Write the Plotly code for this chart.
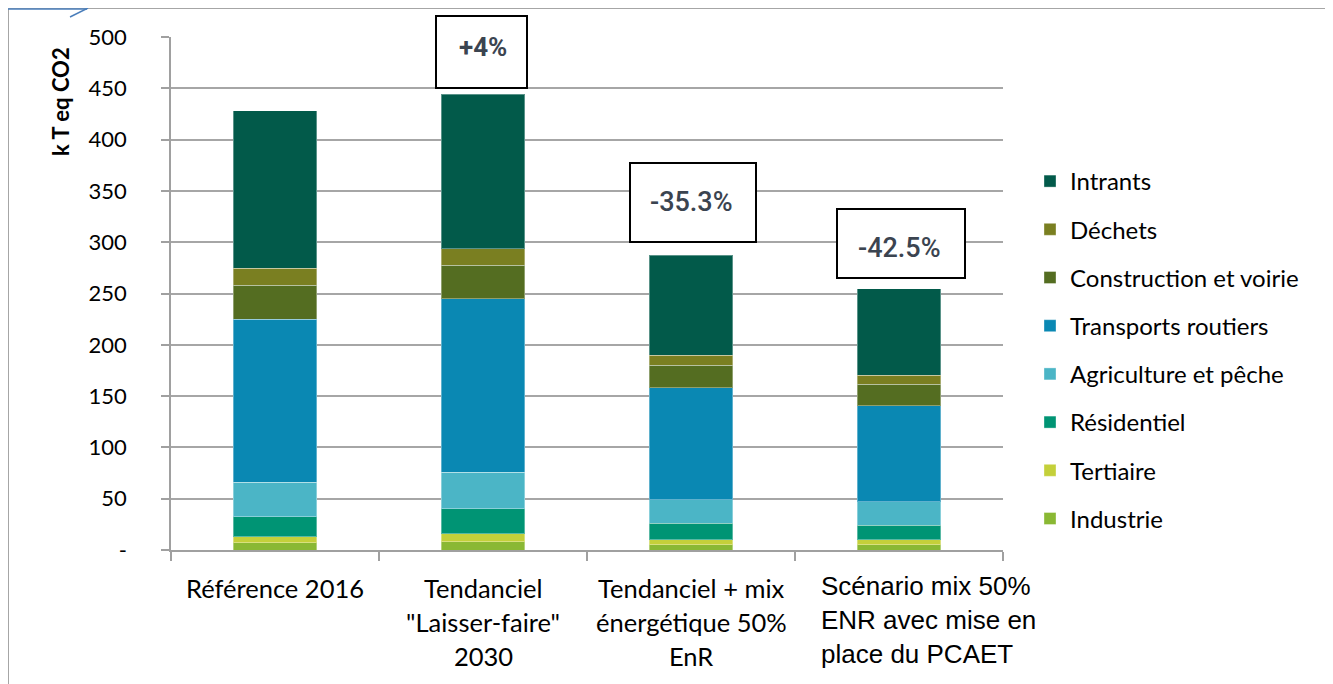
import plotly.graph_objects as go

categories = ["Référence 2016", "Tendanciel \"Laisser-faire\" 2030",
              "Tendanciel + mix énergétique 50% EnR",
              "Scénario mix 50% ENR avec mise en place du PCAET"]
label_lines = [["Référence 2016"],
               ["Tendanciel", "\"Laisser-faire\"", "2030"],
               ["Tendanciel + mix", "énergétique 50%", "EnR"]]
last_label = "Scénario mix 50%<br>ENR avec mise en<br>place du PCAET"

sectors = ["Industrie", "Tertiaire", "Résidentiel", "Agriculture et pêche",
           "Transports routiers", "Construction et voirie", "Déchets", "Intrants"]
colors = ["#8ab834", "#c4d03a", "#009474", "#4bb5c6",
          "#0a88b3", "#546d21", "#7a7f21", "#025a4a"]

industrie = [7, 8, 5, 5]
tertiaire = [6, 8, 5, 5]
residentiel = [19.5, 24, 16, 14]
agriculture = [33.5, 36, 23, 23]
transports = [159, 169, 109, 93.5]
construction = [33, 32.5, 22, 21]
dechets = [16.5, 16, 10, 9]
intrants = [153.5, 150.5, 97.5, 84]
values = [industrie, tertiaire, residentiel, agriculture,
          transports, construction, dechets, intrants]

pct_labels = ["+4%", "-35.3%", "-42.5%"]
pct_cats = [1, 2, 3]

yticks = [0, 50, 100, 150, 200, 250, 300, 350, 400, 450, 500]
yticktext = ["-"] + [str(v) for v in yticks[1:]]

fig = go.Figure()
n = len(sectors)
for k, (name, col, vals) in enumerate(zip(sectors, colors, values)):
    fig.add_trace(go.Bar(
        x=categories, y=vals, name=name, legendgroup=name, legendrank=n - k,
        marker=dict(color=col, line=dict(color="rgba(255,255,255,0.35)", width=1)),
    ))

OFF = 8  # page body margin
W, H = 1325, 676
L, R, T, B = 171, 1003, 37, 550  # plot area in page pixels
pw, ph = R - L, B - T


def px_x(p):
    return (p - L) / pw


def px_y(p):
    return (B - p) / ph


annotations = []
for i, lines in enumerate(label_lines):
    for j, line in enumerate(lines):
        annotations.append(dict(
            x=categories[i], xref="x", y=px_y(588 + 34 * j), yref="paper",
            text=line, showarrow=False, xanchor="center", yanchor="middle",
            font=dict(family="Lato", size=25.5, color="#000000")))
annotations.append(dict(
    x=px_x(819), xref="paper", y=px_y(620), yref="paper", text=last_label,
    showarrow=False, xanchor="left", yanchor="middle", align="left",
    font=dict(family="Liberation Sans", size=26, color="#000000")))

annotations.append(dict(
    x=px_x(60), xref="paper", y=px_y(102), yref="paper", text="<b>k T eq CO2</b>",
    textangle=-90, showarrow=False, xanchor="center", yanchor="middle",
    font=dict(family="Lato", size=22, color="#000000")))

boxes = [(436, 527, 16, 88, 47), (630, 756, 163, 242, 202), (837, 965, 209, 278, 248)]
shapes = []
for (x0, x1, y0, y1, ty), lab, ci in zip(boxes, pct_labels, pct_cats):
    shapes.append(dict(type="rect", xref="paper", yref="paper",
                       x0=px_x(x0), x1=px_x(x1), y0=px_y(y1), y1=px_y(y0),
                       line=dict(color="#000000", width=2), fillcolor="white", layer="above"))
    plus = lab.startswith("+")
    annotations.append(dict(
        x=categories[ci], xref="x", y=px_y(ty), yref="paper",
        text=lab, showarrow=False, xanchor="center", yanchor="middle",
        font=dict(family="Roboto", size=26 if plus else 27,
                  weight=700 if plus else 500, color="#3b4450")))

# outer frame
shapes.append(dict(type="rect", xref="paper", yref="paper",
                   x0=px_x(8.5), x1=px_x(1330.5), y0=px_y(720), y1=px_y(8.5),
                   line=dict(color="#a6a6a6", width=1), layer="below"))
shapes.append(dict(type="line", xref="paper", yref="paper",
                   x0=px_x(8), x1=px_x(87), y0=px_y(9), y1=px_y(9),
                   line=dict(color="#4a7ebb", width=1.5)))
shapes.append(dict(type="line", xref="paper", yref="paper",
                   x0=px_x(70), x1=px_x(88), y0=px_y(17), y1=px_y(8),
                   line=dict(color="#4a7ebb", width=1.5)))

fig.update_layout(
    width=W, height=H, barmode="stack", bargap=0.6,
    margin=dict(l=L - OFF, r=W - (R - OFF), t=T - OFF, b=H - (B - OFF), autoexpand=False),
    paper_bgcolor="white", plot_bgcolor="white",
    font=dict(family="Lato", size=22, color="#000000"),
    showlegend=True,
    legend=dict(traceorder="grouped", tracegroupgap=14,
                x=px_x(1030), xanchor="left", y=px_y(159), yanchor="top",
                font=dict(family="Lato", size=24, color="#000000"),
                bgcolor="rgba(0,0,0,0)"),
    annotations=annotations, shapes=shapes,
)
fig.update_xaxes(showticklabels=False, ticks="outside", tickson="boundaries",
                 ticklen=9, tickcolor="#a0a0a0", tickwidth=1.5,
                 showline=True, linecolor="#a0a0a0", linewidth=1.5,
                 showgrid=False, fixedrange=True)
fig.update_yaxes(range=[0, 500], tickvals=yticks, ticktext=yticktext,
                 ticks="outside", ticklen=8, tickcolor="#a0a0a0", tickwidth=1.5,
                 showline=True, linecolor="#a0a0a0", linewidth=1.5,
                 showgrid=True, gridcolor="#a6a6a6", gridwidth=1.5,
                 zeroline=False, ticklabelstandoff=30,
                 tickfont=dict(family="Lato", size=22, color="#000000"))

fig.write_html("out.html")
